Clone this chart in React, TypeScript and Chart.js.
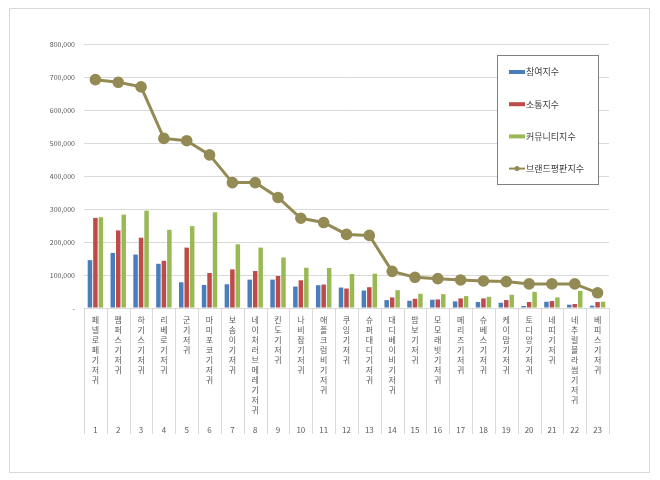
import { useEffect, useRef } from "react";
import { Chart, registerables, Plugin } from "chart.js";

Chart.register(...registerables);

// brand names and their rank numbers (two-row category axis)
const brands = [
  "페넬로페 기저귀",
  "팸퍼스 기저귀",
  "하기스 기저귀",
  "리베로 기저귀",
  "군 기저귀",
  "마미포코 기저귀",
  "보솜이 기저귀",
  "네이처러브메레 기저귀",
  "킨도 기저귀",
  "나비잠 기저귀",
  "애플크럼비 기저귀",
  "쿠잉 기저귀",
  "슈퍼대디 기저귀",
  "대디베이비 기저귀",
  "밤보 기저귀",
  "모모래빗 기저귀",
  "메리즈 기저귀",
  "슈베스 기저귀",
  "케이맘 기저귀",
  "토디앙 기저귀",
  "네띠 기저귀",
  "네추럴블라썸 기저귀",
  "베피스 기저귀",
];
const ranks = [
  "1", "2", "3", "4", "5", "6", "7", "8", "9", "10", "11", "12",
  "13", "14", "15", "16", "17", "18", "19", "20", "21", "22", "23",
];

const participation = [
  145000, 167000, 162000, 134000, 78000, 70000, 72000, 86000, 86000, 65000, 69000, 62000,
  53000, 24000, 22000, 25000, 20000, 18000, 16000, 6000, 19000, 10000, 7000,
];
const communication = [
  273000, 235000, 213000, 143000, 183000, 106000, 117000, 112000, 97000, 84000, 71000, 59000,
  63000, 32000, 28000, 26000, 29000, 29000, 24000, 18000, 21000, 12000, 18000,
];
const community = [
  275000, 283000, 295000, 237000, 248000, 290000, 193000, 183000, 153000, 122000, 121000, 103000,
  104000, 54000, 43000, 42000, 36000, 34000, 40000, 49000, 32000, 52000, 19000,
];
const reputation = [
  692000, 684000, 670000, 514000, 507000, 464000, 380000, 380000, 335000, 272000, 259000, 223000,
  220000, 111000, 93000, 89000, 85000, 82000, 80000, 73000, 73000, 73000, 46000,
];

const FONT = '"Noto Sans CJK KR", "Noto Sans", sans-serif';
const LABEL_LINES = 11;

// stack each character on its own line, then the rank number on the last row
const tickLabels = brands.map((name, i) => {
  const chars = name.replace(/\s/g, "").split("");
  while (chars.length < LABEL_LINES) chars.push("");
  return [...chars, ranks[i]];
});

const separators: Plugin = {
  id: "separators",
  afterDraw(chart) {
    const x = chart.scales.x;
    const ctx = chart.ctx;
    ctx.save();
    ctx.strokeStyle = "#d9d9d9";
    ctx.lineWidth = 1;
    ctx.beginPath();
    for (let i = 0; i <= brands.length; i++) {
      const px = Math.round(x.getPixelForValue(i - 0.5)) + 0.5;
      ctx.moveTo(px, chart.chartArea.bottom);
      ctx.lineTo(px, 434);
    }
    ctx.stroke();
    ctx.restore();
  },
};

// boxed legend sitting over the top right of the plot
const boxLegend: Plugin = {
  id: "boxLegend",
  afterDraw(chart) {
    const ctx = chart.ctx;
    ctx.save();
    ctx.fillStyle = "#ffffff";
    ctx.fillRect(497, 55, 102, 130);
    ctx.strokeStyle = "#808080";
    ctx.lineWidth = 1;
    ctx.strokeRect(497.5, 55.5, 101, 129);
    ctx.font = `9px ${FONT}`;
    ctx.textBaseline = "middle";
    chart.data.datasets.forEach((ds: any, i) => {
      const y = 72 + i * 32.2;
      const color = ds.borderColor || ds.backgroundColor;
      if (ds.type === "line") {
        ctx.strokeStyle = color;
        ctx.lineWidth = 2;
        ctx.beginPath();
        ctx.moveTo(509, y);
        ctx.lineTo(525, y);
        ctx.stroke();
        ctx.fillStyle = color;
        ctx.beginPath();
        ctx.arc(517, y, 2.5, 0, Math.PI * 2);
        ctx.fill();
      } else {
        ctx.fillStyle = ds.backgroundColor;
        ctx.fillRect(509, y - 2, 16, 4);
      }
      ctx.fillStyle = "#404040";
      ctx.fillText(ds.label, 526, y);
    });
    ctx.restore();
  },
};

const App = () => {
  const canvasRef = useRef<HTMLCanvasElement>(null);
  const chartRef = useRef<Chart | null>(null);

  useEffect(() => {
    if (!canvasRef.current) return;
    if (chartRef.current) chartRef.current.destroy();

    chartRef.current = new Chart(canvasRef.current, {
      type: "bar",
      data: {
        labels: tickLabels,
        datasets: [
          { label: "참여지수", data: participation, backgroundColor: "#4A7EBB", order: 1 },
          { label: "소통지수", data: communication, backgroundColor: "#BE4B48", order: 1 },
          { label: "커뮤니티지수", data: community, backgroundColor: "#98B954", order: 1 },
          {
            type: "line",
            label: "브랜드평판지수",
            data: reputation,
            borderColor: "#948A54",
            backgroundColor: "#948A54",
            pointBackgroundColor: "#948A54",
            pointBorderColor: "#948A54",
            borderWidth: 3,
            pointRadius: 4.3,
            tension: 0,
            order: 0,
          } as any,
        ],
      },
      options: {
        responsive: false,
        animation: false,
        layout: { padding: { top: 44, right: 51, left: 0, bottom: 0 } },
        datasets: {
          bar: { categoryPercentage: 0.72, barPercentage: 0.82 },
        },
        plugins: {
          legend: { display: false },
          tooltip: { enabled: false },
        },
        scales: {
          x: {
            grid: { drawOnChartArea: false, drawTicks: false },
            border: { display: true, color: "#d9d9d9" },
            ticks: {
              autoSkip: false,
              maxRotation: 0,
              minRotation: 0,
              padding: 7,
              color: "#595959",
              font: { family: FONT, size: 8, lineHeight: "10px" },
            },
            afterFit(scale) {
              scale.height = 172;
            },
          },
          y: {
            min: 0,
            max: 800000,
            grid: { color: "#d9d9d9", drawTicks: false },
            border: { display: false },
            ticks: {
              stepSize: 100000,
              padding: 9,
              color: "#595959",
              font: { family: FONT, size: 7 },
              callback: (v) => (Number(v) === 0 ? "-" : Number(v).toLocaleString("en-US")),
            },
            afterFit(scale) {
              scale.width = 84;
            },
          },
        },
      },
      plugins: [separators, boxLegend],
    });

    return () => {
      chartRef.current?.destroy();
      chartRef.current = null;
    };
  }, []);

  return (
    <div style={{ position: "absolute", left: 0, top: 0, width: 660, height: 480, background: "#fff" }}>
      <div
        style={{
          position: "absolute",
          left: 9,
          top: 8,
          width: 641,
          height: 465,
          border: "1px solid #d9d9d9",
          boxSizing: "border-box",
        }}
      />
      <canvas
        ref={canvasRef}
        width={660}
        height={480}
        style={{ position: "absolute", left: 0, top: 0, display: "block" }}
      />
    </div>
  );
};

export default App;
